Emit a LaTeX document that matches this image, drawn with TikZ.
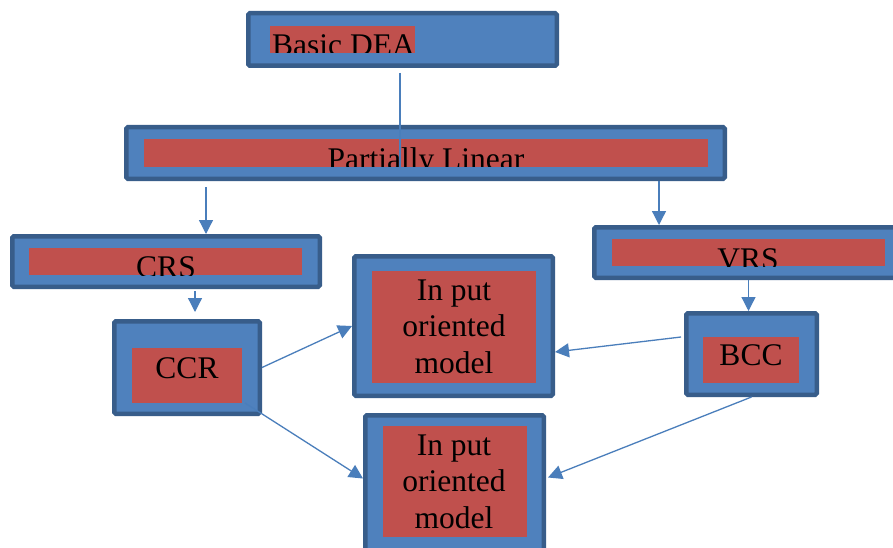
\documentclass[tikz,border=0pt]{standalone}
\usepackage{fontspec}
\setmainfont{Liberation Serif}
\usetikzlibrary{arrows.meta,calc}
\definecolor{boxblue}{HTML}{4F81BD}
\definecolor{boxdark}{HTML}{385D8A}
\definecolor{boxred}{HTML}{C0504D}
\definecolor{arrblue}{HTML}{4A7EBB}
\tikzset{
  outerbox/.style={draw=boxdark, fill=boxblue, line width=4.5pt, rounded corners=1.5pt, inner sep=0pt, outer sep=2.25pt},
  redbox/.style={fill=boxred, draw=none, inner sep=0pt, outer sep=0pt},
  lbl/.style={font=\fontsize{31.5}{36.5}\selectfont, inner sep=0pt, text=black},
  arr/.style={draw=arrblue, line width=1.3pt, -{Triangle[length=14pt,width=14pt]}},
  plainline/.style={draw=arrblue, line width=1.3pt}
}
\newcommand\cliplabel[5]{%
  \begin{scope}
    \clip (#1.south west) rectangle (#1.north east);
    \node[lbl, anchor=#5] (#1t) at (#2,#3) {#4};
  \end{scope}}
\begin{document}
\begin{tikzpicture}[x=1pt,y=-1pt]
\clip (0,0) rectangle (893,548);
\fill[white] (0,0) rectangle (893,548);
% Basic DEA
\node[outerbox, minimum width=308.5pt, minimum height=52.5pt] (basic) at (402.5,39.5) {};
\node[redbox, minimum width=145pt, minimum height=27pt] (basicr) at (342.5,39.5) {};
\cliplabel{basicr}{272}{55.5}{Basic DEA}{base west}
% Partially Linear
\node[outerbox, minimum width=598.5pt, minimum height=51.5pt] (partial) at (425.5,153) {};
\node[redbox, minimum width=564pt, minimum height=28pt] (partialr) at (426,153) {};
\cliplabel{partialr}{426}{170}{Partially Linear}{base}
% CRS
\node[outerbox, minimum width=307.5pt, minimum height=50.5pt] (crs) at (166,261.5) {};
\node[redbox, minimum width=273pt, minimum height=27pt] (crsr) at (165.5,261.5) {};
\cliplabel{crsr}{166}{277.5}{CRS}{base}
% VRS
\node[outerbox, minimum width=308.5pt, minimum height=50.5pt] (vrs) at (748.5,252.5) {};
\node[redbox, minimum width=273pt, minimum height=27pt] (vrsr) at (748.5,252.5) {};
\cliplabel{vrsr}{748}{269.5}{VRS}{base}
% CCR
\node[outerbox, minimum width=145.5pt, minimum height=92.5pt] (ccr) at (187,367.5) {};
\node[redbox, minimum width=110pt, minimum height=55pt] (ccrr) at (187,375.5) {};
\node[lbl, anchor=base] (ccrt) at (187,378) {CCR};
% BCC
\node[outerbox, minimum width=130.5pt, minimum height=81.5pt] (bcc) at (751.5,354) {};
\node[redbox, minimum width=96pt, minimum height=46pt] (bccr) at (751,360) {};
\node[lbl, anchor=base] (bcct) at (751,365.5) {BCC};
% Input oriented model 1
\node[outerbox, minimum width=198.5pt, minimum height=139.5pt] (inA) at (453.5,326) {};
\node[redbox, minimum width=164pt, minimum height=112pt] (inAr) at (454,327) {};
\node[lbl, anchor=base] (inAt) at (454,300) {\begin{tabular}[t]{@{}c@{}}In put\\oriented\\model\end{tabular}};
% Input oriented model 2
\node[outerbox, minimum width=178.5pt, minimum height=142.5pt] (inB) at (454.5,486.5) {};
\node[redbox, minimum width=144pt, minimum height=111pt] (inBr) at (455,481.5) {};
\node[lbl, anchor=base] (inBt) at (454,455) {\begin{tabular}[t]{@{}c@{}}In put\\oriented\\model\end{tabular}};
% connectors
\coordinate (b0) at ($(basic.south)+(-2.5,5)$);
\draw[plainline] (b0) -- (b0 |- partialr.south);
\coordinate (p1) at ($(partial.south west)+(82,6)$);
\draw[arr] (p1) -- (p1 |- crs.north);
\coordinate (p2) at ($(partial.south east)+(-68,0)$);
\draw[arr] (p2) -- (p2 |- vrs.north);
\coordinate (c0) at ($(crs.south west)+(185,2)$);
\draw[arr] (c0) -- ($(c0 |- ccr.north)+(0,-7)$);
\draw[arr] (vrs.south) -- (vrs.south |- bcc.north);
\draw[arr] (ccr.east) -- (inA.west);
\draw[arr] ($(ccr.south east)+(-17,-13)$) -- ($(inB.west)+(0,-8)$);
\draw[arr] ($(bcc.west)+(-3,-17)$) -- ($(inA.east)+(0,26)$);
\draw[arr] (bcc.south) -- ($(inB.east)+(2,-9)$);
\end{tikzpicture}
\end{document}
